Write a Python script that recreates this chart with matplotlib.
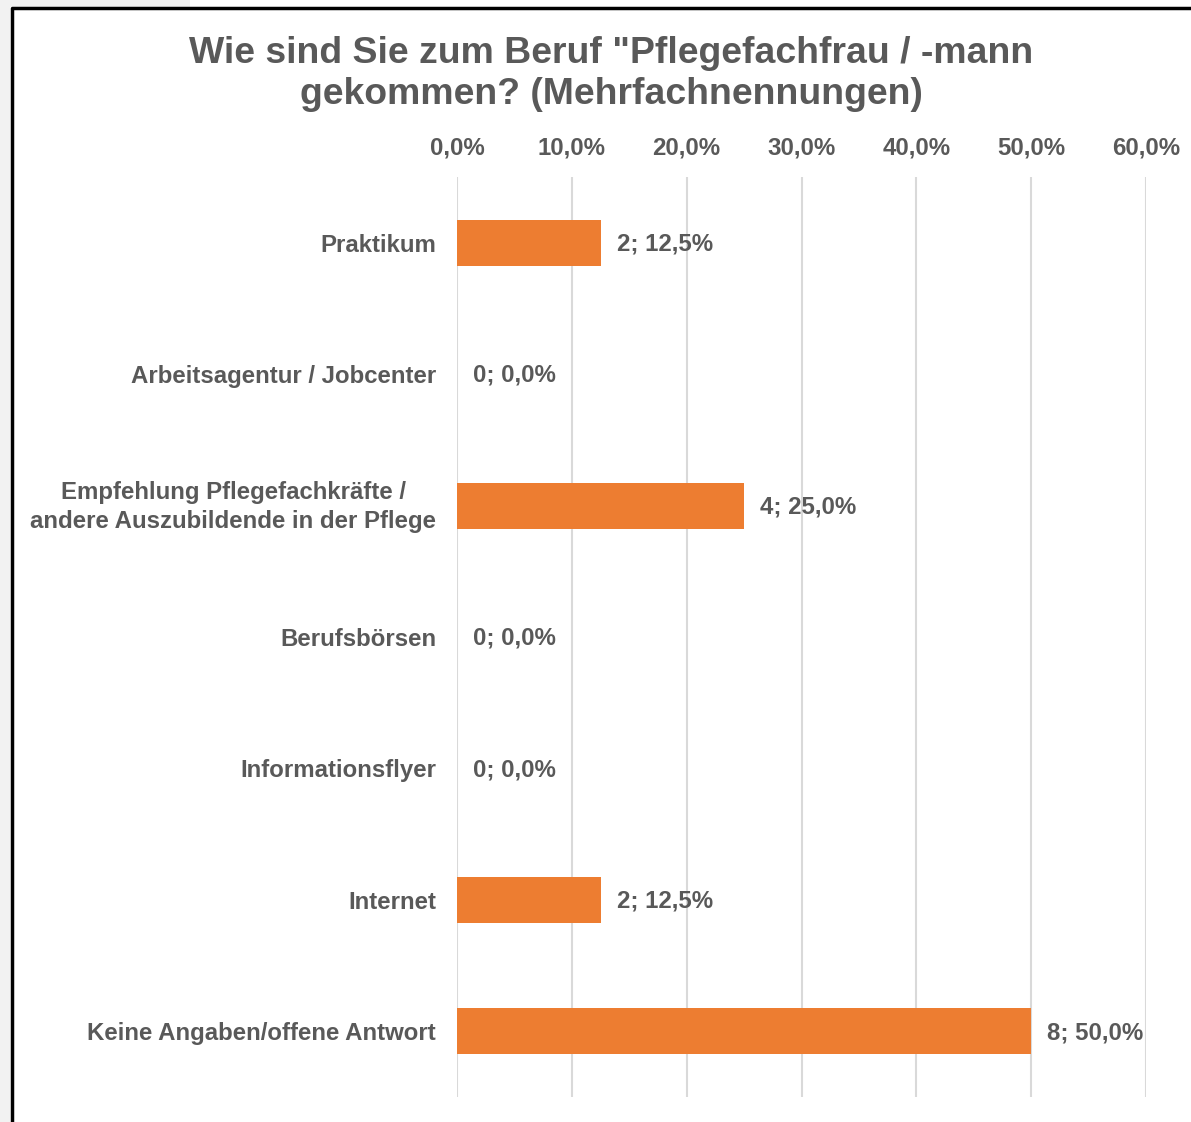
import matplotlib.pyplot as plt
from matplotlib.patches import Rectangle
from matplotlib.lines import Line2D
from matplotlib.transforms import ScaledTranslation
import numpy as np

categories = ['Praktikum', 'Arbeitsagentur / Jobcenter',
              'Empfehlung Pflegefachkräfte /\nandere Auszubildende in der Pflege',
              'Berufsbörsen', 'Informationsflyer', 'Internet',
              'Keine Angaben/offene Antwort']
counts = [2, 0, 4, 0, 0, 2, 8]
percents = [12.5, 0.0, 25.0, 0.0, 0.0, 12.5, 50.0]
xticks = [0, 10, 20, 30, 40, 50, 60]

text_color = '#595959'
bar_color = '#ED7D31'
plt.rcParams['font.family'] = ['Liberation Sans', 'DejaVu Sans']
plt.rcParams['font.weight'] = 'bold'

fig = plt.figure(figsize=(11.91, 11.22), dpi=100)
fig.patch.set_facecolor('white')

# screenshot frame: gray margin and black border line
fig.patches.append(Rectangle((0, 0), 10 / 1191, 1, transform=fig.transFigure,
                             facecolor='#f2f2f2', edgecolor='none', zorder=0))
fig.patches.append(Rectangle((0, 1 - 7 / 1122), 190 / 1191, 7 / 1122, transform=fig.transFigure,
                             facecolor='#f2f2f2', edgecolor='none', zorder=0))
fig.lines.append(Line2D([11.5 / 1191, 11.5 / 1191, 1], [0, 1 - 8 / 1122, 1 - 8 / 1122],
                        transform=fig.transFigure, color='black', linewidth=2.5))

ax = fig.add_axes([457 / 1191, 1 - 1097 / 1122, (1146 - 457) / 1191, (1097 - 177) / 1122])

y = np.arange(len(categories))
ax.barh(y, percents, height=0.35, color=bar_color, zorder=2)
ax.set_ylim(len(categories) - 0.5, -0.5)
ax.set_xlim(0, 60)

for yi, c, p in zip(y, counts, percents):
    ax.text(p + 1.4, yi + 0.01, f'{c}; {p:.1f}%'.replace('.', ','), va='center', ha='left',
            fontsize=17.3, fontweight='bold', color=text_color)

ax.set_xticks(xticks)
ax.set_xticklabels([f'{t:.1f}%'.replace('.', ',') for t in xticks])
ax.xaxis.tick_top()
ax.set_yticks(y)
ax.set_yticklabels(categories, linespacing=1.35)
ax.tick_params(axis='both', length=0, labelsize=17.3, labelcolor=text_color)
ax.tick_params(axis='x', pad=12.5)
ax.tick_params(axis='y', pad=15)
shift_up = ScaledTranslation(0, 4 / 100, fig.dpi_scale_trans)
for lab in ax.get_yticklabels():
    lab.set_horizontalalignment('right')
    lab.set_multialignment('center')
    if '\n' in lab.get_text():
        lab.set_transform(lab.get_transform() + shift_up)

ax.grid(axis='x', color='#d9d9d9', linewidth=1.5, zorder=0)
ax.set_axisbelow(True)
for s in ax.spines.values():
    s.set_visible(False)

fig.text(611 / 1191, 1 - 74 / 1122, 'Wie sind Sie zum Beruf "Pflegefachfrau / -mann\ngekommen? (Mehrfachnennungen)',
         ha='center', va='center', fontsize=26.9, fontweight='bold', color=text_color, linespacing=1.22)

fig.savefig('out.png', dpi=100)
